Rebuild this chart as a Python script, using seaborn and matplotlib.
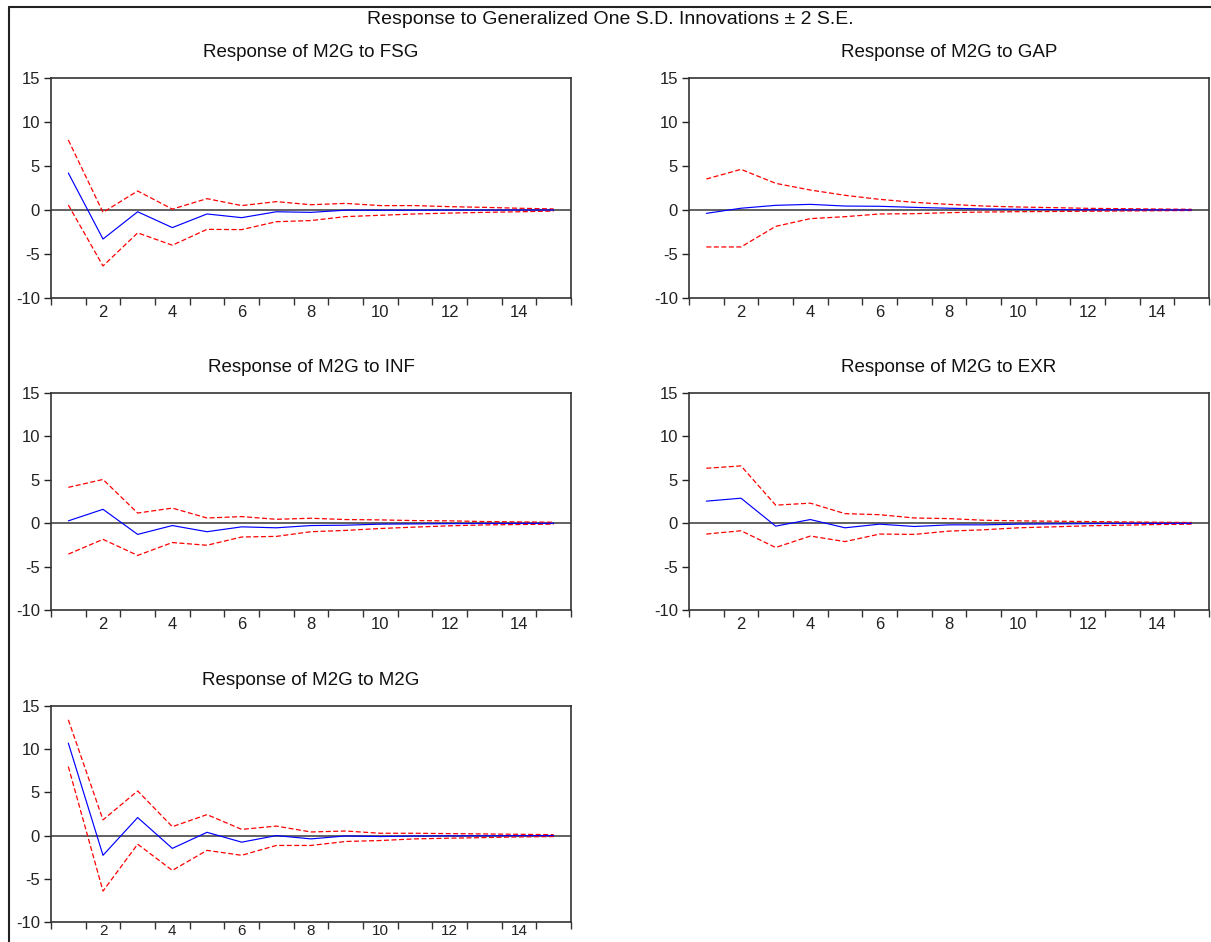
import numpy as np
import pandas as pd
import matplotlib
matplotlib.use("Agg")
import matplotlib.pyplot as plt
from matplotlib.lines import Line2D
from matplotlib.ticker import FixedLocator
import seaborn as sns

periods = list(range(1, 16))
shocks = ["FSG", "GAP", "INF", "EXR", "M2G"]

fsg_resp = [4.2, -3.3, -0.2, -2.0, -0.45, -0.87, -0.2, -0.27, -0.02, -0.03, -0.02, -0.01, -0.01, 0.0, 0.0]
fsg_up   = [7.95, -0.27, 2.16, 0.1, 1.29, 0.5, 0.95, 0.6, 0.75, 0.5, 0.5, 0.38, 0.3, 0.2, 0.12]
fsg_lo   = [0.57, -6.36, -2.6, -4.0, -2.2, -2.23, -1.33, -1.2, -0.75, -0.6, -0.45, -0.35, -0.27, -0.2, -0.12]

gap_resp = [-0.38, 0.2, 0.53, 0.64, 0.45, 0.42, 0.3, 0.2, 0.12, 0.08, 0.05, 0.03, 0.02, 0.01, 0.0]
gap_up   = [3.52, 4.62, 3.03, 2.27, 1.67, 1.21, 0.87, 0.64, 0.45, 0.34, 0.27, 0.19, 0.15, 0.11, 0.08]
gap_lo   = [-4.2, -4.2, -1.86, -0.98, -0.76, -0.45, -0.42, -0.3, -0.23, -0.19, -0.17, -0.14, -0.11, -0.08, -0.06]

inf_resp = [0.27, 1.6, -1.29, -0.27, -0.98, -0.42, -0.53, -0.27, -0.23, -0.11, -0.08, -0.05, -0.03, -0.02, -0.01]
inf_up   = [4.13, 5.04, 1.17, 1.74, 0.6, 0.76, 0.45, 0.57, 0.42, 0.38, 0.3, 0.27, 0.19, 0.15, 0.11]
inf_lo   = [-3.56, -1.86, -3.71, -2.23, -2.54, -1.59, -1.52, -0.98, -0.83, -0.61, -0.45, -0.3, -0.2, -0.15, -0.11]

exr_resp = [2.54, 2.88, -0.34, 0.42, -0.53, -0.11, -0.38, -0.19, -0.19, -0.11, -0.08, -0.05, -0.03, -0.02, -0.01]
exr_up   = [6.33, 6.6, 2.08, 2.31, 1.1, 0.98, 0.6, 0.53, 0.34, 0.27, 0.23, 0.19, 0.15, 0.11, 0.08]
exr_lo   = [-1.25, -0.87, -2.8, -1.48, -2.12, -1.25, -1.29, -0.91, -0.76, -0.53, -0.42, -0.3, -0.23, -0.15, -0.11]

m2g_resp = [10.7, -2.28, 2.09, -1.48, 0.38, -0.76, 0.0, -0.38, -0.04, -0.11, -0.05, -0.03, -0.02, -0.01, 0.0]
m2g_up   = [13.4, 1.82, 5.17, 1.03, 2.43, 0.72, 1.1, 0.42, 0.53, 0.27, 0.27, 0.23, 0.19, 0.15, 0.11]
m2g_lo   = [7.98, -6.42, -0.99, -4.03, -1.71, -2.28, -1.14, -1.14, -0.68, -0.57, -0.38, -0.3, -0.23, -0.15, -0.11]

x_labels = ["2", "4", "6", "8", "10", "12", "14"]
y_ticks = [-10, -5, 0, 5, 10, 15]

series = {
    "FSG": (fsg_resp, fsg_up, fsg_lo),
    "GAP": (gap_resp, gap_up, gap_lo),
    "INF": (inf_resp, inf_up, inf_lo),
    "EXR": (exr_resp, exr_up, exr_lo),
    "M2G": (m2g_resp, m2g_up, m2g_lo),
}

sns.set_theme(style="white")
plt.rcParams['font.family'] = ['Liberation Sans', 'DejaVu Sans']

fig = plt.figure(figsize=(12.11, 9.42), dpi=100)

W, H = 1211.0, 942.0
boxes = {
    "FSG": (51, 78, 571, 298),
    "GAP": (689, 78, 1209, 298),
    "INF": (51, 393, 571, 610),
    "EXR": (689, 393, 1209, 610),
    "M2G": (51, 706, 571, 922),
}

for shock in shocks:
    l, t, r, b = boxes[shock]
    ax = fig.add_axes([l / W, 1 - b / H, (r - l) / W, (b - t) / H])
    resp, up, lo = series[shock]
    df = pd.DataFrame({"period": periods, "resp": resp, "up": up, "lo": lo})
    ax.axhline(0, color="#555555", lw=1.3, zorder=1)
    sns.lineplot(data=df, x="period", y="up", ax=ax, color="red", lw=0.9,
                 linestyle=(0, (4, 2)), zorder=2)
    sns.lineplot(data=df, x="period", y="lo", ax=ax, color="red", lw=0.9,
                 linestyle=(0, (4, 2)), zorder=2)
    sns.lineplot(data=df, x="period", y="resp", ax=ax, color="blue", lw=0.85, zorder=3)
    ax.set_xlim(0.5, 15.5)
    ax.set_ylim(-10, 15)
    ax.set_xlabel("")
    ax.set_ylabel("")
    ax.xaxis.set_major_locator(FixedLocator([2, 4, 6, 8, 10, 12, 14]))
    ax.set_xticklabels(x_labels)
    ax.xaxis.set_minor_locator(FixedLocator([i + 0.5 for i in range(0, 16)]))
    ax.set_yticks(y_ticks)
    ax.set_yticklabels([str(v) for v in y_ticks])
    xpad = 1.5 if shock == "M2G" else 5
    xsize = 11 if shock == "M2G" else 12
    ax.tick_params(axis="x", which="major", length=0, pad=xpad, labelsize=xsize, colors="#222222")
    ax.tick_params(axis="x", which="minor", length=5, width=1.0, direction="out",
                   color="#333333", bottom=True)
    ax.tick_params(axis="y", which="major", length=5, width=1.0, direction="out",
                   left=True, pad=3, labelsize=12, colors="#222222")
    for sp in ax.spines.values():
        sp.set_color("#333333")
        sp.set_linewidth(1.2)
    ax.set_title(f"Response of M2G to {shock}", fontsize=13.5, pad=15, color="#111111")
    ax.grid(False)

fig.text(610 / W, 1 - 19 / H, "Response to Generalized One S.D. Innovations \u00b1 2 S.E.",
         ha="center", va="center", fontsize=14, color="#111111")

fig.add_artist(Line2D([9 / W, 1.0], [1 - 7 / H, 1 - 7 / H], color="#222222", lw=1.5,
                      transform=fig.transFigure))
fig.add_artist(Line2D([9 / W, 9 / W], [1 - 7 / H, 0.0], color="#222222", lw=1.5,
                      transform=fig.transFigure))

fig.savefig("out.png", dpi=100)
